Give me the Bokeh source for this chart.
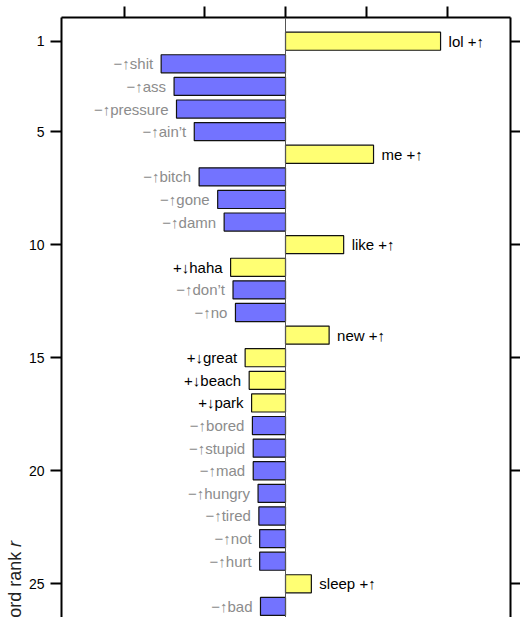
import math
from bokeh.plotting import figure
from bokeh.models import ColumnDataSource, Range1d, LinearAxis, FixedTicker, Span, Title
from bokeh.core.properties import value
from bokeh.embed import file_html
from bokeh.resources import INLINE

# ---- data ----
words = ["lol", "shit", "ass", "pressure", "ain’t", "me", "bitch", "gone", "damn",
         "like", "haha", "don’t", "no", "new", "great", "beach", "park", "bored",
         "stupid", "mad", "hungry", "tired", "not", "hurt", "sleep", "bad"]
ranks = list(range(1, 27))
shifts = [1.92, -1.54, -1.38, -1.35, -1.13, 1.09, -1.07, -0.84, -0.76,
          0.72, -0.68, -0.65, -0.62, 0.54, -0.50, -0.45, -0.42, -0.41,
          -0.40, -0.40, -0.34, -0.33, -0.32, -0.32, 0.32, -0.31]
word_signs = ["+", "−", "−", "−", "−", "+", "−", "−", "−",
              "+", "+", "−", "−", "+", "+", "+", "+", "−",
              "−", "−", "−", "−", "−", "−", "+", "−"]
freq_dirs = ["↑", "↑", "↑", "↑", "↑", "↑", "↑", "↑", "↑",
             "↑", "↓", "↑", "↑", "↑", "↓", "↓", "↓", "↑",
             "↑", "↑", "↑", "↑", "↑", "↑", "↑", "↑"]
rank_ticks = [1, 5, 10, 15, 20, 25]
shift_ticks = [-2, -1, 0, 1, 2]
y_title = "Word rank 𝑟"

POS_FILL = "#FFFF73"
NEG_FILL = "#7373FF"
FONT = "Liberation Sans"

def side_source(right):
    d = dict(rank=[], shift=[], label=[], fill=[], tcolor=[])
    for w, r, s, sg, fd in zip(words, ranks, shifts, word_signs, freq_dirs):
        if (s > 0) != right:
            continue
        d["rank"].append(r)
        d["shift"].append(s)
        d["label"].append(f"{w} {sg}{fd}" if right else f"{sg}{fd}{w}")
        d["fill"].append(POS_FILL if sg == "+" else NEG_FILL)
        d["tcolor"].append("#000000" if sg == "+" else "#8c8c8c")
    return ColumnDataSource(d)

src_r = side_source(True)
src_l = side_source(False)

p = figure(width=520, height=617, output_backend="svg", toolbar_location=None,
           x_range=Range1d(-2.774, 2.786), y_range=Range1d(26.49, -0.048),
           x_axis_location="above", y_axis_location="left",
           min_border_left=61, min_border_right=10, min_border_top=17, min_border_bottom=0,
           outline_line_color=None, background_fill_color="white", border_fill_color="white")
p.grid.visible = False

for src in (src_r, src_l):
    p.hbar(y="rank", left=0, right="shift", height=0.8, source=src,
           fill_color="fill", line_color="#111111", line_width=1.2)

p.text(x="shift", y="rank", text="label", source=src_r, x_offset=8,
       text_align="left", text_baseline="middle", text_color="tcolor",
       text_font=value(FONT), text_font_size="15px")
p.text(x="shift", y="rank", text="label", source=src_l, x_offset=-8,
       text_align="right", text_baseline="middle", text_color="tcolor",
       text_font=value(FONT), text_font_size="15px")

p.add_layout(Span(location=0, dimension="height", line_color="#555555", line_width=1))

# top axis (its labels lie above the visible area in the reference)
xa = p.xaxis[0]
xa.ticker = FixedTicker(ticks=shift_ticks)
xa.major_tick_out = 11
xa.major_tick_in = 0
xa.minor_tick_line_color = None
xa.major_tick_line_width = 2
xa.axis_line_width = 2
xa.major_label_text_font_size = "0px"
xa.major_label_text_color = None
xa.major_label_standoff = 0

# left axis
ya = p.yaxis[0]
ya.ticker = FixedTicker(ticks=rank_ticks)
ya.major_tick_out = 11
ya.major_tick_in = 0
ya.minor_tick_line_color = None
ya.major_tick_line_width = 2
ya.axis_line_width = 2
ya.major_label_text_font = FONT
ya.major_label_text_font_size = "14px"
ya.major_label_text_color = "#000000"
ya.major_label_standoff = 6

# right axis
ra = LinearAxis(ticker=FixedTicker(ticks=rank_ticks), major_tick_out=10, major_tick_in=0,
                minor_tick_line_color=None, major_tick_line_width=2, axis_line_width=2,
                major_label_text_font_size="0px", major_label_text_color=None,
                major_label_standoff=0)
p.add_layout(ra, "right")

# y axis title (partly cut off at the bottom in the reference)
p.add_layout(Title(text=y_title, align="left", offset=-17, standoff=2,
                   text_font=FONT, text_font_style="normal",
                   text_font_size="18px", text_color="#222222"), "left")

open("out.html", "w").write(file_html(p, INLINE))
